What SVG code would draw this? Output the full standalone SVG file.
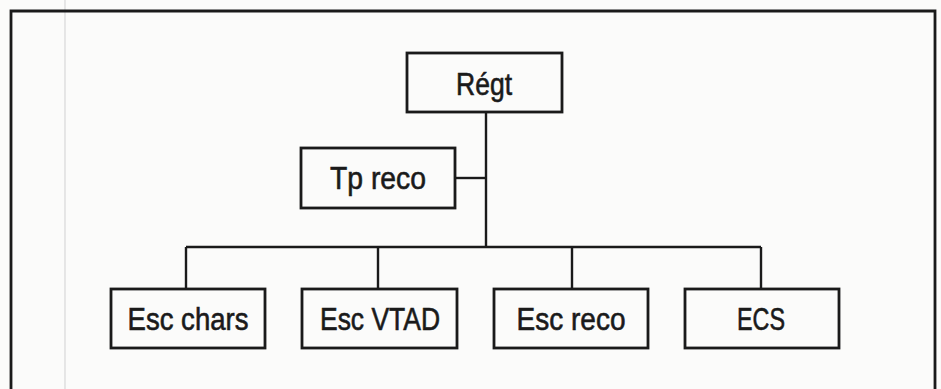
<svg xmlns="http://www.w3.org/2000/svg" width="941" height="389" viewBox="0 0 941 389">
<style>
.box{fill:none;stroke:#1a1a1a;stroke-width:2.8}
.lbl{font-family:"Liberation Sans",Arial,sans-serif;font-size:31px;fill:#1a1a1a;stroke:#1a1a1a;stroke-width:0.6;text-anchor:middle}
.con{fill:none;stroke:#1a1a1a;stroke-width:2.4}
</style>
<rect width="941" height="389" fill="#fbfbfa"/>
<line x1="65" y1="0" x2="65" y2="389" stroke="#d8d8d8" stroke-width="1.2"/>
<path d="M11 389 V11 H935 V389" fill="none" stroke="#1a1a1a" stroke-width="2.8"/>
<g id="connectors">
<path class="con" d="M486 112 V247"/>
<path class="con" d="M455 178 H486"/>
<path class="con" d="M186 247 H761"/>
<path class="con" d="M186 247 V289"/>
<path class="con" d="M378 247 V289"/>
<path class="con" d="M572 247 V289"/>
<path class="con" d="M761 247 V289"/>
</g>
<g id="regt"><rect class="box" x="407" y="53" width="155" height="59"/><text class="lbl" x="484" y="95" textLength="56" lengthAdjust="spacingAndGlyphs">Régt</text></g>
<g id="tpreco"><rect class="box" x="301" y="148" width="154" height="60"/><text class="lbl" x="378" y="189" textLength="96" lengthAdjust="spacingAndGlyphs">Tp reco</text></g>
<g id="escchars"><rect class="box" x="111" y="289" width="154" height="59"/><text class="lbl" x="188" y="330" textLength="121" lengthAdjust="spacingAndGlyphs">Esc chars</text></g>
<g id="escvtad"><rect class="box" x="302" y="289" width="155" height="59"/><text class="lbl" x="380" y="330" textLength="120" lengthAdjust="spacingAndGlyphs">Esc VTAD</text></g>
<g id="escreco"><rect class="box" x="494" y="289" width="154" height="59"/><text class="lbl" x="571" y="330" textLength="109" lengthAdjust="spacingAndGlyphs">Esc reco</text></g>
<g id="ecs"><rect class="box" x="685" y="289" width="154" height="59"/><text class="lbl" x="761" y="330" textLength="48" lengthAdjust="spacingAndGlyphs">ECS</text></g>
</svg>
